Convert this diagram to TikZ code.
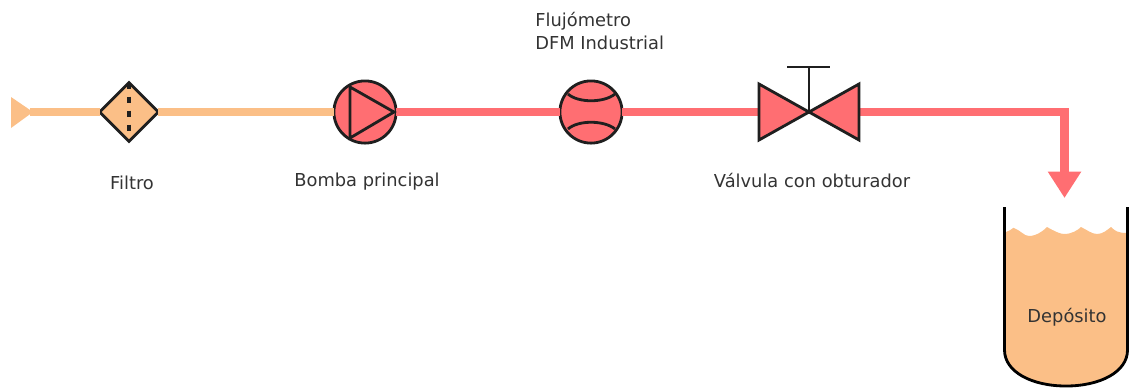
\documentclass[tikz,border=0pt]{standalone}
\usepackage{fontspec}
\setmainfont{DejaVu Sans}
\usetikzlibrary{arrows.meta,shapes.geometric}
\definecolor{naranja}{HTML}{FBBF87}
\definecolor{rojo}{HTML}{FF6E72}
\definecolor{negro}{HTML}{1F1F1F}
\tikzset{
  equipo/.style={draw=negro, line width=1.6pt, inner sep=0pt, outer sep=0pt},
  trazo/.style={line width=1.6pt, negro},
  tubo/.style={line width=4.6pt},
  rotulo/.style={inner sep=0pt, text=black!80},
}
\begin{document}
\begin{tikzpicture}[x=0.02cm, y=-0.02cm, font=\fontsize{10.15}{12.6}\selectfont, line join=miter, >=stealth]
\useasboundingbox (0,0) rectangle (1131,387);
% tuberia
\coordinate (entrada) at (30,112);
\coordinate (valvI) at (759,112);
\coordinate (valvD) at (859,112);
\coordinate (valvC) at (809,112);
\coordinate (codo) at (1064.5,112);
\coordinate (caida) at (1064.5,198);
\node[equipo, diamond, fill=naranja, minimum size=33.5pt] (filtro) at (129,112) {};
\node[equipo, circle, fill=rojo, minimum size=35.4pt] (bomba) at (365,112) {};
\node[equipo, circle, fill=rojo, minimum size=35.4pt] (caudal) at (591,112) {};
\draw[tubo, naranja] (entrada)--(filtro);
\draw[tubo, naranja] (filtro)--(bomba);
\draw[tubo, rojo] (bomba)--(caudal);
\draw[tubo, rojo] (caudal)--(valvI);
\draw[tubo, rojo, -{Triangle[length=15pt, width=18pt]}] (valvD)--(codo)--(caida);
\fill[naranja] (11,97)--(33,112)--(11,128)--cycle;
% filtro
\draw[negro, line width=1.9pt, dash pattern=on 3.6pt off 4.4pt] (filtro.north)--(filtro.south);
% bomba
\draw[trazo] (350,87)--(350,138)--(394,112)--cycle;
% caudalimetro
\draw[trazo] (568,94) .. controls (578,103) and (604,103) .. (615,94);
\draw[trazo] (568,129) .. controls (578,120) and (604,120) .. (615,129);
% valvula
\draw[equipo, fill=rojo] (valvI)++(0,-28)--(valvC)--(759,140)--cycle;
\draw[equipo, fill=rojo] (valvD)++(0,-28)--(valvC)--(859,140)--cycle;
\draw[trazo] (valvC)--(809,67) (787,67)--(830,67);
% deposito
\fill[naranja] (1006,232) .. controls (1012,230) and (1013,227) .. (1014,228)
  .. controls (1020,230) and (1024,236) .. (1029,236)
  .. controls (1037,236) and (1044,230) .. (1047,227)
  .. controls (1054,231) and (1060,234) .. (1064,234)
  .. controls (1072,234) and (1078,230) .. (1081,227)
  .. controls (1087,230) and (1092,234) .. (1097,234)
  .. controls (1103,234) and (1107,230) .. (1111,227)
  .. controls (1115,231) and (1118,233) .. (1127,233)
  -- (1127,350) .. controls (1127,372) and (1100,386) .. (1066,386)
  .. controls (1032,386) and (1005,372) .. (1005,350) -- cycle;
\draw[line width=1.6pt, black] (1004.5,207)--(1004.5,350) .. controls (1004.5,372) and (1032,386) .. (1066,386)
  .. controls (1100,386) and (1127.5,372) .. (1127.5,350)--(1127.5,207);
% textos
\node[rotulo] (rFiltro) at (132,183) {Filtro};
\node[rotulo] (rBomba) at (367,182) {Bomba principal};
\node[rotulo, align=left, anchor=west] (rCaudal) at (535,31) {Flujómetro\\DFM Industrial};
\node[rotulo] (rValvula) at (812,180) {Válvula con obturador};
\node[rotulo] (rDeposito) at (1067,317) {Depósito};
\end{tikzpicture}
\end{document}
